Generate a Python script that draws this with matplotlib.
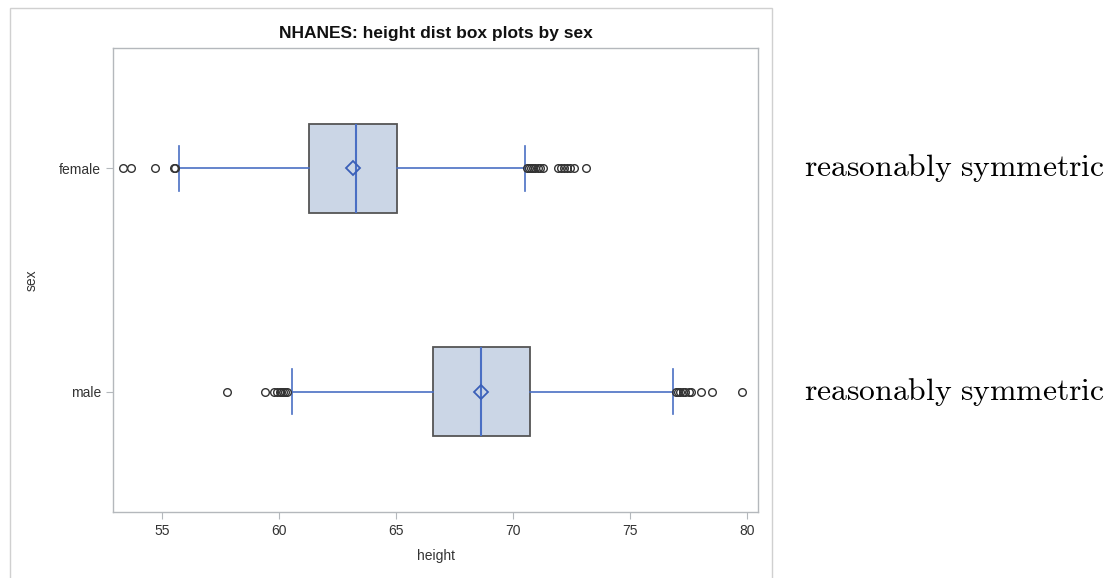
import matplotlib
matplotlib.use('Agg')
import matplotlib.pyplot as plt
from matplotlib.patches import Rectangle

plt.rcParams['font.family'] = ['Liberation Sans', 'DejaVu Sans']
plt.rcParams['mathtext.fontset'] = 'cm'

# height summary per sex (inches)
groups = ['male', 'female']
q1 = [66.58, 61.28]
median = [68.63, 63.29]
q3 = [70.73, 65.04]
mean = [68.63, 63.16]
whisker_lo = [60.54, 55.73]
whisker_hi = [76.84, 70.51]
fliers_male = [57.76, 59.40, 59.78, 59.92, 60.02, 60.10, 60.18, 60.26, 60.34,
               76.95, 77.05, 77.15, 77.25, 77.35, 77.50, 77.62, 78.02, 78.49, 79.77]
fliers_female = [53.32, 53.68, 54.70, 55.51, 55.55,
                 70.60, 70.70, 70.78, 70.86, 70.95, 71.05, 71.15, 71.30,
                 71.90, 72.05, 72.18, 72.30, 72.45, 72.60, 73.12]
fliers = [fliers_male, fliers_female]
notes = ['reasonably symmetric', 'reasonably symmetric']

blue = '#4a6fc4'

stats = []
for i, g in enumerate(groups):
    stats.append(dict(label=g, q1=q1[i], med=median[i], q3=q3[i], mean=mean[i],
                      whislo=whisker_lo[i], whishi=whisker_hi[i], fliers=fliers[i]))

fig = plt.figure(figsize=(11.11, 5.78), dpi=100)
ax = fig.add_axes([0.1017, 0.1142, 0.5806, 0.8028])

ax.bxp(stats, positions=[0, 1], vert=False, widths=0.40, patch_artist=True,
       showmeans=True, capwidths=0.20,
       boxprops=dict(facecolor='#cbd6e6', edgecolor='#555555', linewidth=1.3),
       medianprops=dict(color=blue, linewidth=1.5),
       whiskerprops=dict(color=blue, linewidth=1.2),
       capprops=dict(color=blue, linewidth=1.2),
       meanprops=dict(marker='D', markerfacecolor='none', markeredgecolor='#3a5fb8',
                      markersize=7, markeredgewidth=1.3),
       flierprops=dict(marker='o', markerfacecolor='none', markeredgecolor='#333333',
                       markersize=5.5, markeredgewidth=1.0))

ax.set_xlim(52.9, 80.47)
ax.set_ylim(-0.54, 1.54)
ax.set_xticks([55, 60, 65, 70, 75, 80])
ax.set_yticks([0, 1])
ax.set_yticklabels(groups)
for s in ax.spines.values():
    s.set_color('#b4b8bc')
    s.set_linewidth(1.0)
ax.tick_params(colors='#b4b8bc', labelcolor='#333333', labelsize=10, length=5)
ax.set_xlabel('height', fontsize=10, color='#333333', labelpad=8)
ax.set_ylabel('sex', fontsize=10, color='#333333', labelpad=6)
ax.yaxis.set_label_coords(-0.115, 0.5)
ax.set_title('NHANES: height dist box plots by sex', fontsize=12.5,
             fontweight='bold', color='#111111', pad=7)

# light frame around the graph region
fig.patches.append(Rectangle((10 / 1111, -0.01), 762 / 1111, 1 - 8 / 578 + 0.01,
                             transform=fig.transFigure, fill=False,
                             edgecolor='#d0d0d0', linewidth=1.0))

for i, note in enumerate(notes):
    ax.annotate(r'$\mathrm{' + note.replace(' ', r'\ ') + '}$', xy=(1, i),
                xycoords=('figure fraction', 'data'), xytext=(804 / 1111, i),
                textcoords=('figure fraction', 'data'), fontsize=22.8,
                va='center', ha='left', color='black')

fig.savefig('out.png', dpi=100)
